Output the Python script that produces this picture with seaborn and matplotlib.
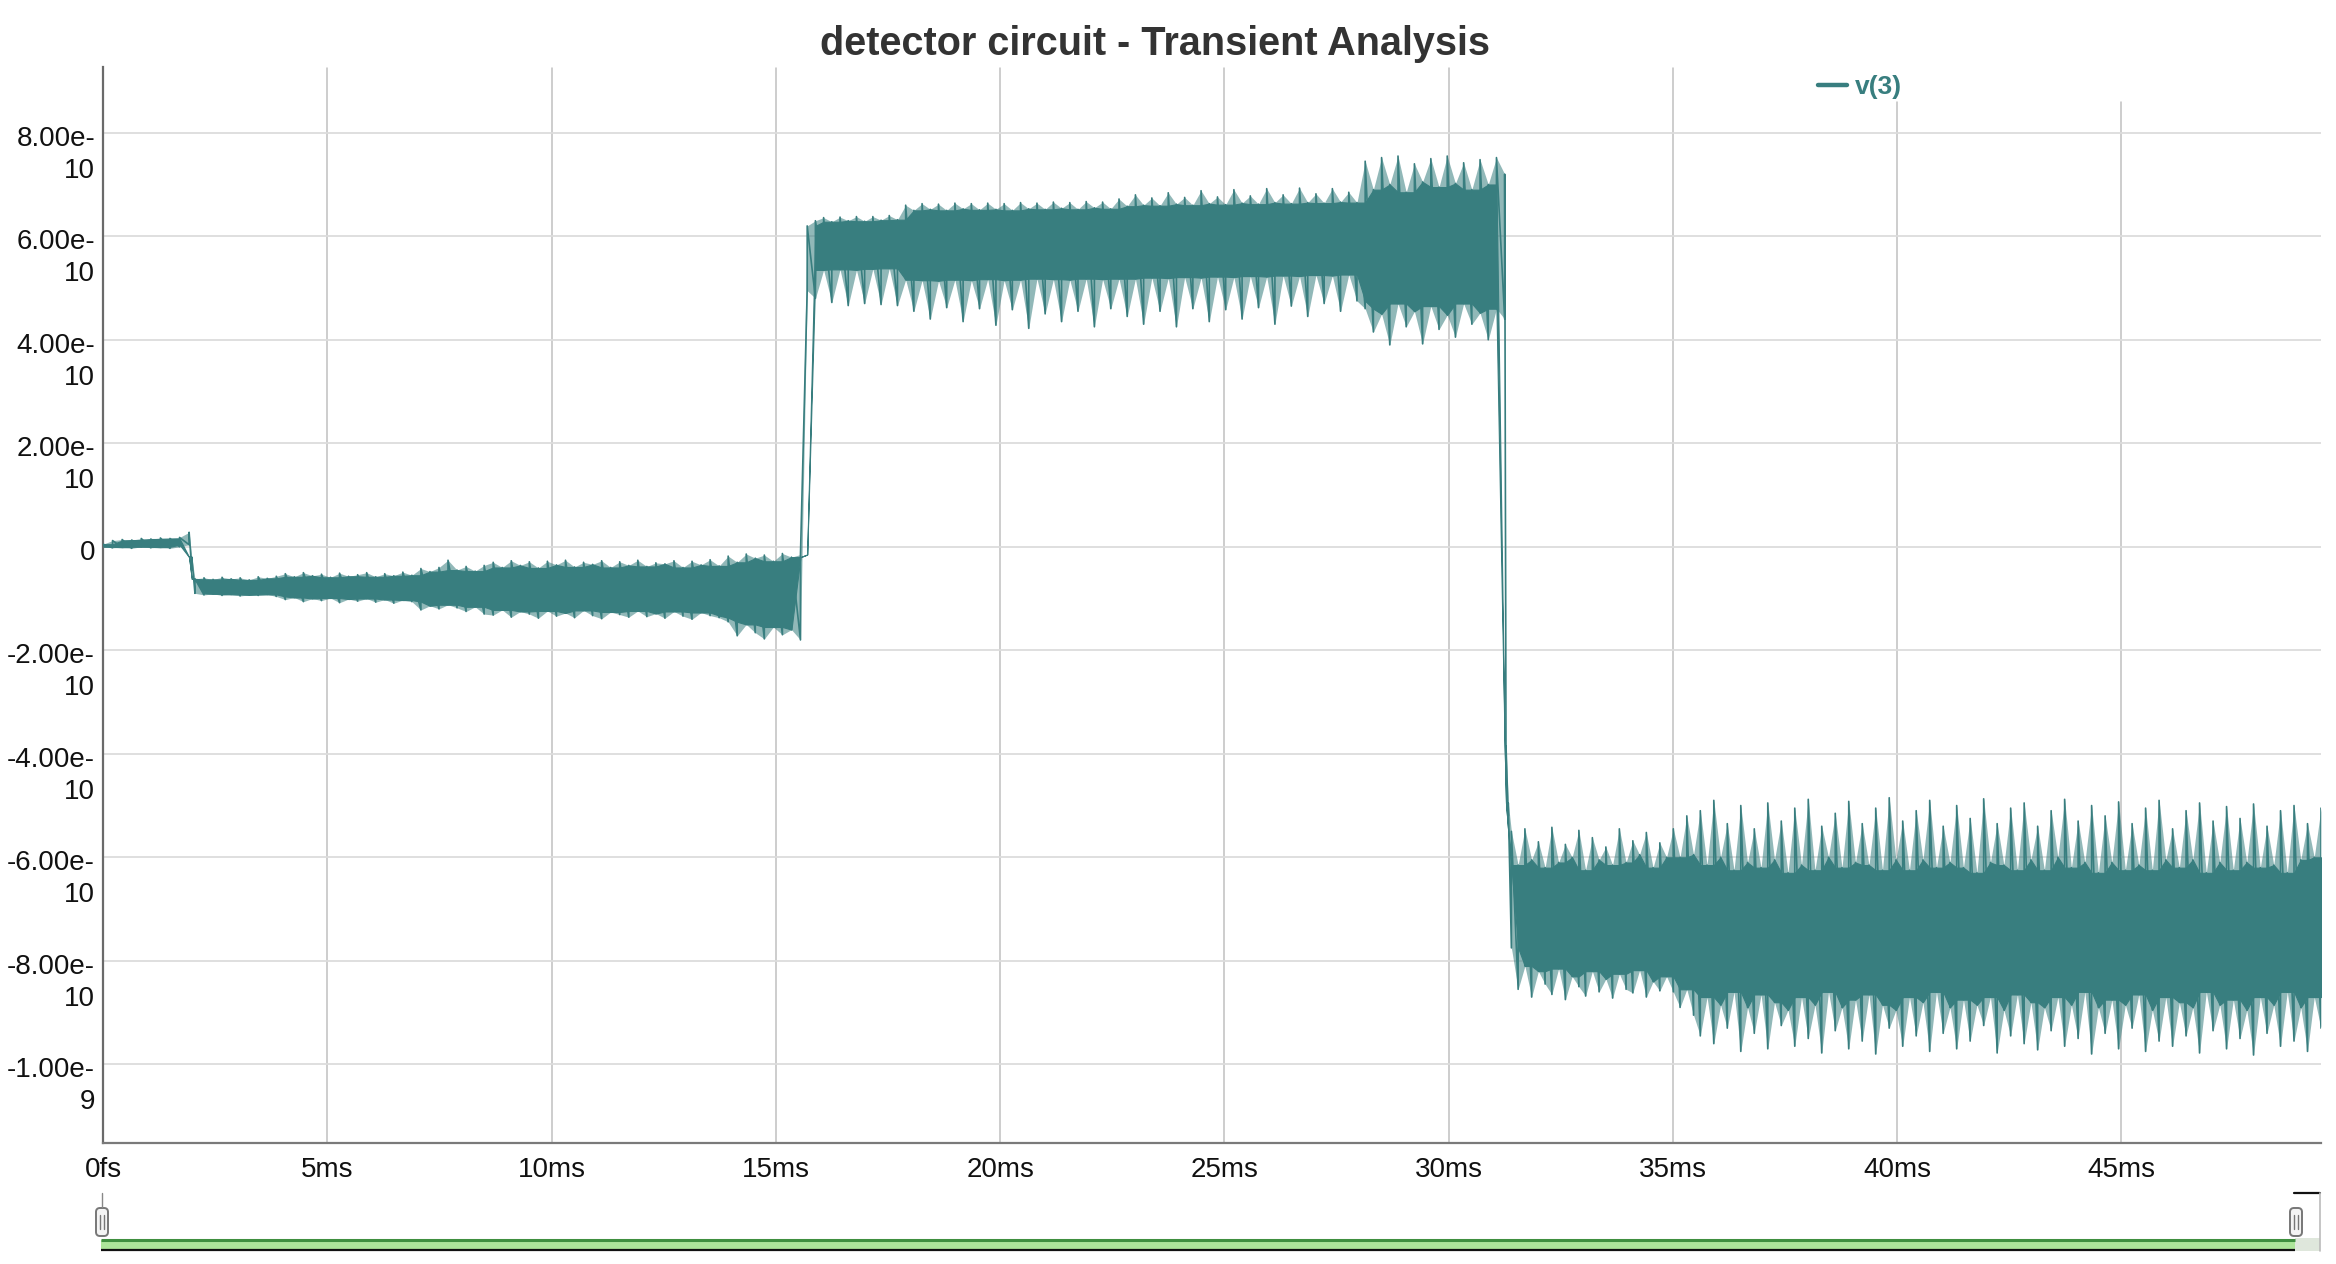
import numpy as np
import matplotlib
matplotlib.use("Agg")
import matplotlib.pyplot as plt
import seaborn as sns
from matplotlib.patches import Rectangle, FancyBboxPatch

# ---------------- data (time in ms, voltage in units of 1e-10 V) ----------------
# segment A: quiet start
seg_a_span = (0.0, 1.92)
seg_a_hi = [0.05, 0.12, 0.14, 0.13, 0.16, 0.15, 0.17, 0.16, 0.18, 0.28]
seg_a_lo = [0.0, -0.02, -0.01, -0.03, 0.0, -0.02, -0.01, -0.03, 0.0, 0.04]

# drop after start
drop1_t = [1.98]
drop1_hi = [-0.20]
drop1_lo = [-0.45]

# segment B: small negative band, growing noise
seg_b_span = (2.05, 15.55)
seg_b_hi = [-0.62, -0.60, -0.63, -0.59, -0.62, -0.60, -0.64, -0.58, -0.61, -0.57,
            -0.52, -0.58, -0.50, -0.56, -0.53, -0.59, -0.51, -0.57, -0.54, -0.50,
            -0.58, -0.52, -0.56, -0.49, -0.55,
            -0.42, -0.48, -0.40, -0.26, -0.45, -0.38, -0.47, -0.36,
            -0.30, -0.40, -0.27, -0.36, -0.29, -0.41, -0.28, -0.35, -0.26, -0.39,
            -0.30, -0.34, -0.27, -0.40, -0.29, -0.36, -0.26, -0.38, -0.31, -0.33,
            -0.27, -0.40, -0.28, -0.35, -0.25, -0.37,
            -0.18, -0.30, -0.14, -0.22, -0.16, -0.28, -0.13, -0.20, -0.15]
seg_b_lo = [-0.90, -0.93, -0.91, -0.94, -0.92, -0.95, -0.93, -0.94, -0.92, -0.96,
            -1.02, -0.98, -1.06, -1.00, -1.04, -0.99, -1.08, -1.01, -1.05, -1.00,
            -1.07, -1.02, -1.09, -1.03, -1.06,
            -1.22, -1.14, -1.20, -1.12, -1.18, -1.25, -1.16, -1.30,
            -1.32, -1.22, -1.36, -1.25, -1.30, -1.38, -1.24, -1.34, -1.28, -1.37,
            -1.23, -1.33, -1.39, -1.26, -1.31, -1.36, -1.24, -1.35, -1.29, -1.38,
            -1.25, -1.34, -1.40, -1.27, -1.33, -1.37,
            -1.45, -1.72, -1.50, -1.66, -1.78, -1.55, -1.70, -1.60, -1.80]

# segment C: positive band with periodic dips
seg_c_span = (15.70, 31.25)
seg_c_hi = [6.20, 6.30, 6.36, 6.28, 6.37, 6.30, 6.38, 6.29, 6.38, 6.31, 6.40, 6.32,
            6.60, 6.50, 6.63, 6.52, 6.62, 6.50, 6.64, 6.53, 6.63, 6.51, 6.64, 6.52,
            6.63, 6.50, 6.65, 6.53, 6.64, 6.52, 6.66, 6.54, 6.65, 6.52, 6.67, 6.55,
            6.66, 6.53, 6.72,
            6.58, 6.80, 6.60, 6.74, 6.59, 6.84, 6.62, 6.75, 6.60, 6.88, 6.63, 6.76,
            6.61, 6.90, 6.64, 6.78, 6.62, 6.92, 6.65, 6.80, 6.63, 6.93, 6.65, 6.82,
            6.64, 6.92, 6.66, 6.85, 6.65,
            7.45, 6.90, 7.52, 7.00, 7.55, 6.85, 7.40, 7.05, 7.50, 6.95, 7.55, 7.02,
            7.42, 6.90, 7.48, 7.00, 7.52, 7.20]
seg_c_lo = [4.95, 4.80, 5.35, 4.72, 5.36, 4.66, 5.35, 4.70, 5.37, 4.68, 5.38, 4.66,
            5.16, 4.55, 5.15, 4.40, 5.14, 4.62, 5.16, 4.35, 5.15, 4.60, 5.17, 4.28,
            5.15, 4.58, 5.16, 4.22, 5.18, 4.50, 5.17, 4.35, 5.16, 4.55, 5.18, 4.25,
            5.17, 4.60, 5.18,
            4.45, 5.18, 4.30, 5.20, 4.55, 5.19, 4.25, 5.21, 4.60, 5.20, 4.35, 5.22,
            4.58, 5.21, 4.40, 5.23, 4.62, 5.22, 4.30, 5.24, 4.65, 5.23, 4.45, 5.25,
            4.70, 5.24, 4.55, 5.26, 4.75,
            4.60, 4.15, 4.50, 3.90, 4.70, 4.25, 4.55, 3.92, 4.65, 4.20, 4.48, 4.05,
            4.70, 4.30, 4.52, 4.00, 4.60, 4.40]

# fall to the negative level
drop2_t = [31.28, 31.33]
drop2_hi = [-3.85, -4.95]
drop2_lo = [-4.10, -5.20]

# segment D: large negative band
seg_d_span = (31.40, 49.45)
seg_d_hi = [-5.50, -6.15, -5.45, -6.05, -5.70, -6.20, -5.42, -6.10, -5.75, -6.00,
            -5.48, -6.25, -5.62, -6.05, -5.80, -6.15, -5.45, -6.10, -5.68, -5.95,
            -5.52, -6.20, -5.72, -6.00,
            -5.45, -6.00, -5.20, -5.95,
            -5.10, -6.15, -4.90, -6.00, -5.35, -6.25, -5.00, -6.10, -5.45, -6.20,
            -4.95, -6.05, -5.30, -6.30, -5.05, -6.15, -4.88, -6.25, -5.40, -6.00,
            -5.15, -6.20, -4.92, -6.10, -5.35, -6.15, -5.05, -6.25, -4.85, -6.05,
            -5.30, -6.25, -5.10, -6.05, -4.90, -6.20, -5.40, -6.10, -5.00, -6.20,
            -5.25, -6.30, -4.87, -6.10, -5.35, -6.15, -5.05, -6.25, -4.95, -6.05,
            -5.40, -6.25, -5.10, -6.00, -4.88, -6.20, -5.30, -6.10, -5.00, -6.30,
            -5.20, -6.10, -4.93, -6.25, -5.35, -6.15, -5.05, -6.25, -4.90, -6.05,
            -5.45, -6.20, -5.10, -6.05, -4.95, -6.30, -5.30, -6.10, -5.02, -6.25,
            -5.25, -6.10, -4.97, -6.20, -5.40, -6.15, -5.10, -6.30, -5.00, -6.05,
            -5.35, -6.00, -5.05]
seg_d_lo = [-7.75, -8.55, -8.10, -8.70, -8.20, -8.45, -8.65, -8.15, -8.75, -8.30,
            -8.50, -8.68, -8.20, -8.60, -8.35, -8.72, -8.25, -8.55, -8.62, -8.18,
            -8.70, -8.40, -8.58, -8.30,
            -8.60, -8.90, -8.55, -9.05,
            -9.45, -8.70, -9.60, -8.85, -9.30, -8.60, -9.75, -8.90, -9.40, -8.65,
            -9.70, -8.80, -9.25, -8.95, -9.65, -8.70, -9.50, -8.85, -9.78, -8.60,
            -9.35, -8.90, -9.70, -8.75, -9.55, -8.65, -9.80, -8.85, -9.30, -8.95,
            -9.65, -8.70, -9.45, -8.80, -9.75, -8.60, -9.40, -8.90, -9.70, -8.75,
            -9.55, -8.85, -9.25, -8.70, -9.78, -8.95, -9.45, -8.65, -9.60, -8.80,
            -9.72, -8.90, -9.35, -8.70, -9.65, -8.85, -9.50, -8.60, -9.80, -8.90,
            -9.40, -8.75, -9.70, -8.85, -9.30, -8.65, -9.75, -8.95, -9.55, -8.70,
            -9.65, -8.80, -9.45, -8.90, -9.78, -8.60, -9.35, -8.85, -9.70, -8.75,
            -9.50, -8.95, -9.82, -8.70, -9.40, -8.85, -9.65, -8.60, -9.55, -8.90,
            -9.75, -8.70, -9.30]

x_ticks_ms = [0, 5, 10, 15, 20, 25, 30, 35, 40, 45]
x_tick_labels = ["0fs", "5ms", "10ms", "15ms", "20ms", "25ms", "30ms", "35ms", "40ms", "45ms"]
y_ticks_e10 = [-10, -8, -6, -4, -2, 0, 2, 4, 6, 8]
series_name = "v(3)"
title = "detector circuit - Transient Analysis"

# ---------------- assemble trace ----------------
def seg_t(span, vals):
    return np.linspace(span[0], span[1], len(vals))

t_ms = np.concatenate([seg_t(seg_a_span, seg_a_hi), drop1_t,
                       seg_t(seg_b_span, seg_b_hi),
                       seg_t(seg_c_span, seg_c_hi), drop2_t,
                       seg_t(seg_d_span, seg_d_hi)])
v_hi = np.concatenate([seg_a_hi, drop1_hi, seg_b_hi, seg_c_hi, drop2_hi, seg_d_hi]) * 1e-10
v_lo = np.concatenate([seg_a_lo, drop1_lo, seg_b_lo, seg_c_lo, drop2_lo, seg_d_lo]) * 1e-10

# solid core of the band: the envelope shared by neighbouring samples
pad_hi = np.concatenate([[v_hi[0]], v_hi, [v_hi[-1]]])
pad_lo = np.concatenate([[v_lo[0]], v_lo, [v_lo[-1]]])
core_hi = np.minimum(np.minimum(pad_hi[:-2], pad_hi[1:-1]), pad_hi[2:])
core_lo = np.maximum(np.maximum(pad_lo[:-2], pad_lo[1:-1]), pad_lo[2:])
core_lo = np.minimum(core_lo, core_hi)

# oscillating trace: each sample swings from its trough to its peak
t_zig = np.repeat(t_ms, 2)
v_zig = np.empty(2 * len(t_ms))
v_zig[0::2] = v_lo
v_zig[1::2] = v_hi

# ---------------- styling ----------------
W, H = 2336, 1264
teal = "#387e7f"
sns.set_style("white")
plt.rcParams["font.family"] = ["Liberation Sans", "DejaVu Sans"]

fig = plt.figure(figsize=(W / 100, H / 100), dpi=100)
L, R, T, B = 103, 2321, 67, 1143
ax = fig.add_axes([L / W, 1 - B / H, (R - L) / W, (B - T) / H])

# dense oscillation: partly covered outer zone, solid core, then the trace itself
ax.fill_between(t_ms, v_lo, v_hi, color=teal, alpha=0.55, linewidth=0, zorder=2)
ax.fill_between(t_ms, core_lo, core_hi, color=teal, linewidth=0.8, edgecolor=teal, zorder=2.5)
sns.lineplot(x=t_zig, y=v_zig, ax=ax, color=teal, linewidth=1.2, estimator=None,
             sort=False, label=series_name, zorder=3)
ax.set_xlim(0, 49.45)
ax.set_ylim(-11.52e-10, 9.27e-10)
ax.set_xlabel("")
ax.set_ylabel("")

# grid
yt = [v * 1e-10 for v in y_ticks_e10]
ax.set_yticks(yt)
ax.tick_params(axis="y", length=0, labelleft=False)
ax.yaxis.grid(True, color="#dcdcdc", linewidth=1.3)
ax.xaxis.grid(False)
ax.set_axisbelow(True)
for xt in x_ticks_ms[1:]:
    top = 0.9675 if xt >= 40 else 0.999
    ax.axvline(xt, ymin=0, ymax=top, color="#c0c0c0", linewidth=1.1, zorder=0.5)

ax.set_xticks(x_ticks_ms)
ax.set_xticklabels(x_tick_labels)
ax.tick_params(axis="x", length=0, pad=10.0, labelsize=20, labelcolor="#111111")

for s in ["top", "right"]:
    ax.spines[s].set_visible(False)
ax.spines["left"].set_color("#6a6a6a")
ax.spines["left"].set_linewidth(1.6)
ax.spines["bottom"].set_color("#7a7a7a")
ax.spines["bottom"].set_linewidth(1.6)

# y tick labels wrapped like the reference
for v, val in zip(y_ticks_e10, yt):
    if v == 0:
        ax.annotate("0", xy=(0, val), xycoords=("axes fraction", "data"),
                    xytext=(-8, -13), textcoords="offset pixels",
                    ha="right", va="baseline", fontsize=20, color="#111111")
        continue
    mant, ex = f"{val:.2e}".split("e")
    ax.annotate(mant + "e-", xy=(0, val), xycoords=("axes fraction", "data"),
                xytext=(-8, -13), textcoords="offset pixels",
                ha="right", va="baseline", fontsize=20, color="#111111")
    ax.annotate(str(abs(int(ex))), xy=(0, val), xycoords=("axes fraction", "data"),
                xytext=(-8, -45), textcoords="offset pixels",
                ha="right", va="baseline", fontsize=20, color="#111111")

# title
fig.text(1155 / W, 1 - 55 / H, title, ha="center", va="baseline",
         fontsize=28.5, fontweight="bold", color="#333333")

# legend
handles, labels = ax.get_legend_handles_labels()
leg = ax.legend(handles, labels, loc="center left",
                bbox_to_anchor=(1818 / W, 1 - 87 / H), bbox_transform=fig.transFigure,
                frameon=False, borderpad=0, borderaxespad=0, handlelength=1.1,
                handletextpad=0.3, prop={"size": 19, "weight": "bold"})
for ln in leg.get_lines():
    ln.set_linewidth(3.2)
for tx in leg.get_texts():
    tx.set_color(teal)

# navigator (range slider) drawn in pixel coordinates
nav = fig.add_axes([0, 0, 1, 1], facecolor="none")
nav.set_xlim(0, W)
nav.set_ylim(H, 0)
nav.axis("off")
nav.add_patch(Rectangle((101, 1240), 2295 - 101, 9, facecolor="#ade59a", edgecolor="none"))
nav.plot([101, 2295], [1239.5, 1239.5], color="#3f8f3f", linewidth=2.2, solid_capstyle="butt")
nav.plot([101, 2295], [1250, 1250], color="#111111", linewidth=1.6, solid_capstyle="butt")
nav.add_patch(Rectangle((2295, 1238), 25, 13, facecolor="#dfe7dc", edgecolor="none"))
nav.plot([2294, 2320], [1193, 1193], color="#111111", linewidth=1.6)
nav.plot([2320, 2320], [1193, 1251], color="#bbbbbb", linewidth=1.2)
nav.plot([102, 102], [1193, 1207], color="#888888", linewidth=1.0)
for cx in (102, 2296):
    nav.add_patch(FancyBboxPatch((cx - 6, 1208), 12, 28,
                                 boxstyle="round,pad=0,rounding_size=4",
                                 facecolor="#f4f4f4", edgecolor="#777777", linewidth=1.4))
    nav.plot([cx - 1.8, cx - 1.8], [1215, 1229], color="#777777", linewidth=1.0)
    nav.plot([cx + 1.8, cx + 1.8], [1215, 1229], color="#777777", linewidth=1.0)

fig.savefig("out.png", dpi=100)
